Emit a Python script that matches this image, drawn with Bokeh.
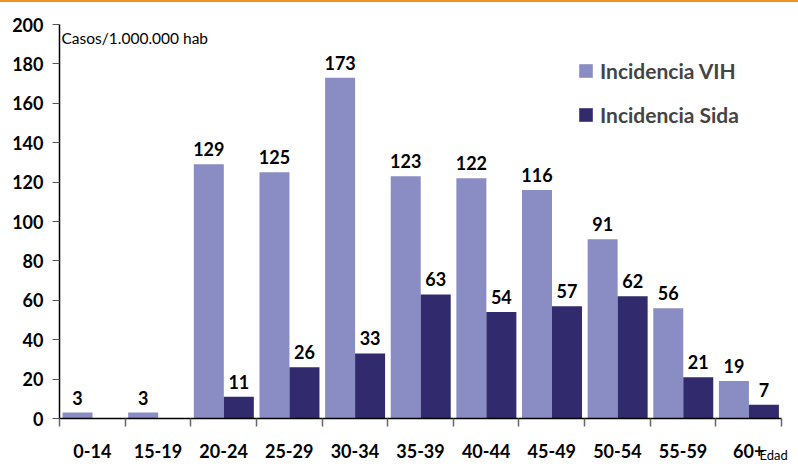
from bokeh.plotting import figure
from bokeh.models import Range1d, FixedTicker, Legend, LegendItem, Label, ColumnDataSource, LinearAxis
from bokeh.core.properties import value
from bokeh.embed import file_html
from bokeh.resources import INLINE

categories = ["0-14", "15-19", "20-24", "25-29", "30-34", "35-39", "40-44", "45-49", "50-54", "55-59", "60+"]
vih = [3, 3, 129, 125, 173, 123, 122, 116, 91, 56, 19]
sida = [None, None, 11, 26, 33, 63, 54, 57, 62, 21, 7]
y_ticks = [0, 20, 40, 60, 80, 100, 120, 140, 160, 180, 200]
x_title = "Edad"

C_VIH = "#8A8DC4"
C_SIDA = "#312A6D"
FONT = "Lato"

n = len(categories)
p = figure(width=798, height=464, output_backend="svg", toolbar_location=None,
           x_range=Range1d(0, n + 17 / 65.64), y_range=Range1d(0, 200),
           x_axis_location=None,
           min_border_left=59, min_border_right=0, min_border_top=22, min_border_bottom=48)
p.styles = {"position": "absolute", "left": "0px", "top": "0px", "border-top": "2px solid #F39321"}
p.outline_line_color = None
p.xgrid.visible = False
p.ygrid.visible = False
p.background_fill_color = "white"
p.border_fill_color = "white"

idx = list(range(n))
x_vih = [i + 0.275 for i in idx]
x_sida = [i + 0.732 for i in idx]

src_v = ColumnDataSource(dict(x=x_vih, top=vih, lab=[str(v) for v in vih]))
sida_i = [i for i in idx if sida[i] is not None]
src_s = ColumnDataSource(dict(x=[x_sida[i] for i in sida_i], top=[sida[i] for i in sida_i],
                              lab=[str(sida[i]) for i in sida_i]))

r1 = p.vbar(x="x", top="top", width=0.457, source=src_v, fill_color=C_VIH, line_color=None)
r2 = p.vbar(x="x", top="top", width=0.457, source=src_s, fill_color=C_SIDA, line_color=None)

for src in (src_v, src_s):
    p.text(x="x", y="top", text="lab", source=src, text_align="center", text_baseline="alphabetic",
           y_offset=-15, text_font=value(FONT), text_font_style="bold", text_font_size="18px",
           text_color="black")

# x axis: line, boundary ticks, category labels
xa = LinearAxis(bounds=(0, n), ticker=FixedTicker(ticks=[i + 0.5 for i in idx],
                                                  minor_ticks=list(range(n + 1))))
xa.major_label_overrides = {i + 0.5: c for i, c in enumerate(categories)}
xa.major_tick_in = 0
xa.major_tick_out = 0
xa.minor_tick_in = 0
xa.minor_tick_out = 8
xa.minor_tick_line_color = "#666666"
xa.minor_tick_line_width = 1.5
xa.axis_line_color = "black"
xa.axis_line_width = 1.5
xa.major_label_standoff = 17
xa.major_label_text_font = FONT
xa.major_label_text_font_style = "bold"
xa.major_label_text_font_size = "18px"
xa.major_label_text_color = "black"
p.add_layout(xa, "below")

# axis title "Edad" at the right end, just below the category row
edad_pos = 10.88
xb = LinearAxis(ticker=FixedTicker(ticks=[edad_pos], minor_ticks=[]))
xb.major_label_overrides = {edad_pos: x_title}
xb.axis_line_color = None
xb.major_tick_line_color = None
xb.minor_tick_line_color = None
xb.major_tick_in = 0
xb.major_tick_out = 0
xb.major_label_standoff = -14
xb.major_label_text_font = FONT
xb.major_label_text_font_style = "normal"
xb.major_label_text_font_size = "13px"
xb.major_label_text_color = "black"
p.add_layout(xb, "below")

ya = p.yaxis[0]
ya.ticker = FixedTicker(ticks=y_ticks)
ya.major_tick_in = 0
ya.major_tick_out = 7
ya.minor_tick_in = 0
ya.minor_tick_out = 0
ya.major_tick_line_color = "#555555"
ya.axis_line_color = "black"
ya.axis_line_width = 1.5
ya.major_label_standoff = 9
ya.major_label_text_font = FONT
ya.major_label_text_font_style = "bold"
ya.major_label_text_font_size = "18px"
ya.major_label_text_color = "black"

p.add_layout(Label(x=0, y=193, x_offset=2, text="Casos/1.000.000 hab", text_font=FONT,
                   text_font_size="15.5px", text_baseline="middle", text_color="black"))

legend = Legend(items=[LegendItem(label="Incidencia VIH", renderers=[r1]),
                       LegendItem(label="Incidencia Sida", renderers=[r2])],
                location=(518, 291), glyph_width=17, glyph_height=17, label_height=21,
                spacing=19, padding=0, margin=0, label_standoff=6,
                label_text_font=FONT, label_text_font_style="bold", label_text_font_size="21px",
                border_line_color=None, background_fill_alpha=0)
p.add_layout(legend)

open("out.html", "w").write(file_html(p, INLINE))
